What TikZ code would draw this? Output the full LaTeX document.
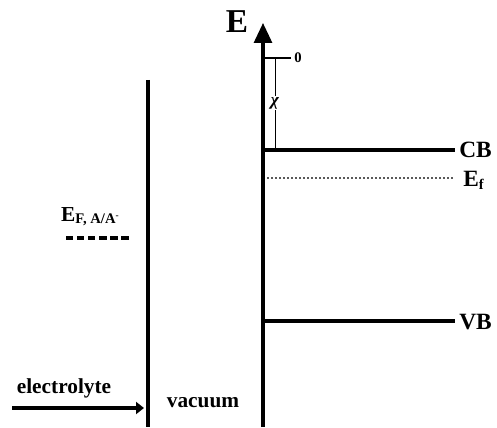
\documentclass[tikz,border=0pt]{standalone}
\usepackage{fontspec}
\setmainfont{Liberation Serif}
\usetikzlibrary{arrows.meta}
\begin{document}
\begin{tikzpicture}[x=0.75pt,y=-0.75pt,
  lbl/.style={font=\bfseries\fontsize{16}{19}\selectfont, inner sep=0pt},
  big/.style={font=\bfseries\fontsize{17.5}{20}\selectfont, inner sep=0pt},
  small/.style={font=\bfseries\fontsize{11}{13}\selectfont, inner sep=0pt},
  thickline/.style={line width=2.3pt},
  level/.style={line width=2.3pt}]
\useasboundingbox (0,0) rectangle (497,428);
% coordinates
\coordinate (ltop) at (148,80);
\coordinate (lbot) at (148,427);
\coordinate (abot) at (263,427);
\coordinate (atop) at (263,23);
\coordinate (z0) at (263,58);
\coordinate (z1) at (291,58);
\coordinate (c0) at (275,58);
\coordinate (c1) at (275,150);
\coordinate (cb0) at (263,150);
\coordinate (cb1) at (455,150);
\coordinate (ef0) at (267,178);
\coordinate (ef1) at (453,178);
\coordinate (vb0) at (263,321);
\coordinate (vb1) at (455,321);
\coordinate (d0) at (66,238);
\coordinate (d1) at (131,238);
\coordinate (el0) at (12,408);
\coordinate (el1) at (144,408);
% lines
\draw[thickline] (ltop) -- (lbot);
\draw[thickline,-{Triangle[width=13.5pt,length=15pt]}] (abot) -- (atop);
\draw[line width=1.6pt] (z0) -- (z1);
\draw[line width=0.6pt] (c0) -- (c1);
\node[font=\bfseries\itshape\fontsize{13}{15}\selectfont, fill=white, inner sep=1pt] (chi) at (275,103) {χ};
\draw[level] (cb0) -- (cb1);
\draw[line width=1.7pt, black!65, dash pattern=on 1.3pt off 1.7pt] (ef0) -- (ef1);
\draw[level] (vb0) -- (vb1);
\draw[line width=2.8pt, dash pattern=on 5.5pt off 2.8pt] (d0) -- (d1);
\draw[line width=2.4pt,-{Triangle[width=9pt,length=6pt]}] (el0) -- (el1);
% labels
\node[font=\bfseries\fontsize{25}{29}\selectfont, inner sep=0pt] (E) at (237,22) {E};
\node[small, anchor=west] (zero) at (294,58) {0};
\node[big, anchor=west] (CB) at (459,150) {CB};
\node[big, anchor=west] (Ef) at (463,180) {E\raisebox{-0.3ex}{\fontsize{11}{13}\selectfont f}};
\node[big, anchor=west] (VB) at (459,322) {VB};
\node[lbl] (EFA) at (90,217) {E\raisebox{-0.2ex}{\fontsize{11}{13}\selectfont F, A/A\raisebox{0.8ex}{\fontsize{7}{8}\selectfont -}}};
\node[lbl] (elec) at (64,388) {electrolyte};
\node[lbl] (vac) at (203,403) {vacuum};
\end{tikzpicture}
\end{document}
